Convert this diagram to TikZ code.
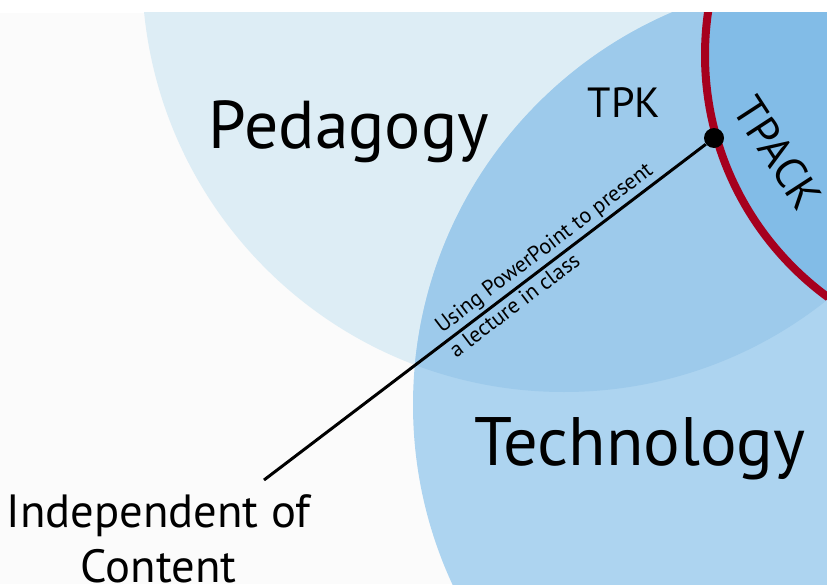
\documentclass[tikz,border=0pt]{standalone}
\usepackage{fontspec}
\setmainfont{PT Sans}
\definecolor{bgcol}{HTML}{FBFBFB}
\definecolor{pedcol}{HTML}{DDEDF5}
\definecolor{techcol}{HTML}{ADD4F0}
\definecolor{tpkcol}{HTML}{9DCAEB}
\definecolor{tpackcol}{HTML}{82BCE7}
\definecolor{tpackred}{HTML}{A6001E}
\begin{document}
\begin{tikzpicture}

\useasboundingbox (0,0) rectangle (16.54,11.68);
\fill[bgcol] (0,0) rectangle (16.54,11.42);

\coordinate (ped)  at (11.28,12.28);
\coordinate (tech) at (16.8,3.58);
\coordinate (con)  at (20.1,10.58);

\begin{scope}
\clip (0,0) rectangle (16.54,11.42);
\fill[pedcol]  (ped)  circle (8.44cm);
\fill[techcol] (tech) circle (8.54cm);
\clip (ped) circle (8.44cm);
\fill[tpkcol] (tech) circle (8.54cm);
\clip (tech) circle (8.54cm);
\fill[tpackcol] (con) circle (6cm);
\draw[tpackred, line width=.16cm] (con) circle (6cm);
\end{scope}

\node[anchor=base] (pedagogy) at (6.98,8.72) {\fontsize{38.5}{40}\selectfont Pedagogy};
\node[anchor=base] (technology) at (12.8,2.38) {\fontsize{39}{40}\selectfont Technology};
\node[anchor=base] (tpk) at (12.48,9.34) {\fontsize{24}{26}\selectfont TPK};
\node[rotate=-57] (tpack) at (15.56,8.62) {\fontsize{25}{26}\selectfont TPACK};
\node[anchor=base] (indep) at (3.17,1.14) {\fontsize{26.5}{30}\selectfont Independent of};
\node[anchor=base] (content) at (3.17,.04) {\fontsize{26.5}{30}\selectfont Content};

\node[circle, fill=black, inner sep=0, minimum size=.4cm] (dot) at (14.28,8.92) {};
\coordinate (tail) at (5.28,2.08);

\draw[line width=1.7pt] (tail) -- (dot)
  node[pos=.655, sloped, above, inner sep=1.5pt, font=\fontsize{12.5}{13}\selectfont] (ppt) {Using PowerPoint to present}
  node[pos=.55, sloped, below, inner sep=1.5pt, font=\fontsize{12.5}{13}\selectfont] (lecture) {a lecture in class};

\end{tikzpicture}
\end{document}
